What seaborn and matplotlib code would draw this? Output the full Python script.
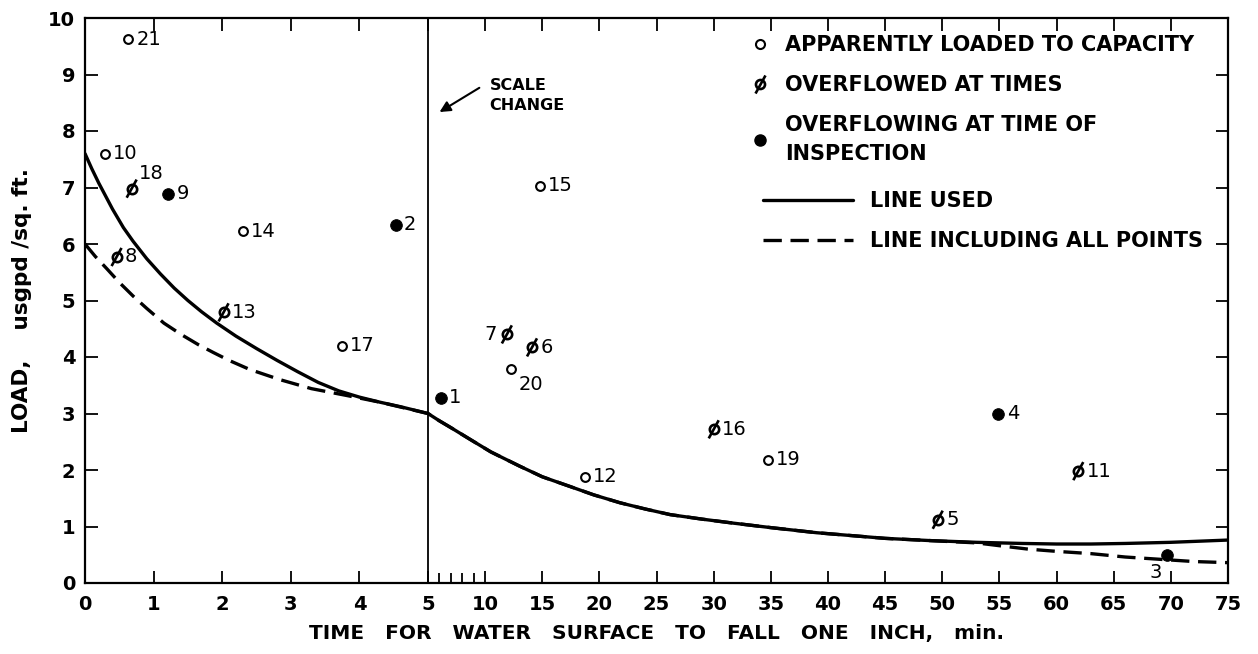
import numpy as np
import pandas as pd
import matplotlib
matplotlib.use("Agg")
import matplotlib.pyplot as plt
from matplotlib.lines import Line2D
from matplotlib.legend_handler import HandlerTuple
import seaborn as sns

# ---------------- data ----------------
point_ids = ["21", "10", "18", "9", "14", "2", "8", "13", "17",
             "1", "7", "6", "20", "15", "12", "16", "19", "4", "11", "5", "3"]
point_x = [0.63, 0.29, 0.68, 1.21, 2.30, 4.53, 0.46, 2.02, 3.74,
           6.1, 11.9, 14.1, 12.3, 14.8, 18.7, 30.0, 34.75, 54.9, 61.9, 49.6, 69.7]
point_y = [9.62, 7.60, 6.98, 6.89, 6.23, 6.34, 5.77, 4.79, 4.20,
           3.28, 4.40, 4.17, 3.78, 7.03, 1.88, 2.72, 2.18, 3.00, 1.98, 1.12, 0.50]
point_type = ["open", "open", "slash", "filled", "open", "filled", "slash", "slash", "open",
              "filled", "slash", "slash", "open", "open", "open", "slash", "open", "filled",
              "slash", "slash", "filled"]

line_used_x = [0, 0.1, 0.2, 0.3, 0.4, 0.56, 0.7, 0.9, 1.1, 1.3, 1.5, 1.7, 1.92, 2.2, 2.5,
               2.8, 3.1, 3.4, 3.7, 4.0, 4.3, 4.6, 5.0,
               6.0, 7.0, 8.7, 10.5, 13.0, 15.0, 17.4, 19.5, 21.8, 24.0, 26.2, 29.0, 31.7,
               35.0, 39.0, 42.0, 45.0, 49.0, 53.0, 57.0, 60.0, 63.0, 66.0, 70.0, 75.0]
line_used_y = [7.60, 7.33, 7.08, 6.85, 6.62, 6.29, 6.05, 5.74, 5.47, 5.22, 5.00, 4.80, 4.60,
               4.37, 4.15, 3.94, 3.74, 3.55, 3.40, 3.29, 3.20, 3.12, 3.00,
               2.87, 2.75, 2.54, 2.32, 2.07, 1.88, 1.71, 1.56, 1.42, 1.31, 1.21, 1.13, 1.06,
               0.98, 0.89, 0.84, 0.79, 0.75, 0.72, 0.70, 0.69, 0.69, 0.70, 0.72, 0.76]

line_all_x = [0, 0.15, 0.32, 0.5, 0.7, 0.9, 1.15, 1.4, 1.65, 1.87, 2.1, 2.4, 2.84, 3.3,
              3.81, 4.3, 5.0,
              6.0, 7.0, 8.7, 10.5, 13.0, 15.0, 17.4, 19.5, 21.8, 24.0, 26.2, 29.0, 31.7,
              35.0, 39.0, 42.0, 45.0, 49.0, 53.0,
              55.0, 57.5, 60.0, 63.0, 66.0, 69.0, 72.0, 75.0]
line_all_y = [6.00, 5.78, 5.56, 5.32, 5.08, 4.86, 4.60, 4.40, 4.22, 4.08, 3.94, 3.78, 3.60,
              3.44, 3.32, 3.20, 3.00,
              2.87, 2.75, 2.54, 2.32, 2.07, 1.88, 1.71, 1.56, 1.42, 1.31, 1.21, 1.13, 1.06,
              0.98, 0.89, 0.84, 0.79, 0.75, 0.71,
              0.66, 0.60, 0.56, 0.52, 0.46, 0.42, 0.38, 0.36]

x_major_ticks = [0, 1, 2, 3, 4, 5, 10, 15, 20, 25, 30, 35, 40, 45, 50, 55, 60, 65, 70, 75]
x_minor_ticks = [6, 7, 8, 9]
y_ticks = list(range(0, 11))

legend_labels = ["APPARENTLY LOADED TO CAPACITY", "OVERFLOWED AT TIMES",
                 "OVERFLOWING AT TIME OF\nINSPECTION"]
line_labels = ["LINE USED", "LINE INCLUDING ALL POINTS"]

# label offsets (points) for point numbers
label_offset = {"18": (5, 4, "left", "bottom"), "7": (-7, 0, "right", "center"),
                "20": (5, -4, "left", "top"), "3": (-4, -6, "right", "top")}

# ---------------- style ----------------
sns.set_theme(style="ticks")
plt.rcParams["font.family"] = ["DejaVu Sans"]
plt.rcParams.update({
    "xtick.direction": "in", "ytick.direction": "in",
    "xtick.top": True, "ytick.right": True,
    "xtick.major.size": 9, "ytick.major.size": 9,
    "xtick.minor.size": 7, "xtick.major.width": 1.3, "ytick.major.width": 1.3,
    "xtick.minor.width": 1.3, "axes.linewidth": 1.6,
    "axes.edgecolor": "black", "text.color": "black", "axes.labelcolor": "black",
    "xtick.color": "black", "ytick.color": "black",
})

fig = plt.figure(figsize=(12.58, 6.54), dpi=100, facecolor="white")
ax = fig.add_axes([85 / 1258, 71 / 654, 1143 / 1258, 565 / 654])

# right part: 70 min over 800 px, left part: 5 min over 343 px
K = (800.0 / 70.0) / (343.0 / 5.0)


def fwd(x):
    x = np.asarray(x, dtype=float)
    return np.where(x <= 5, x, 5 + (x - 5) * K)


def inv(u):
    u = np.asarray(u, dtype=float)
    return np.where(u <= 5, u, 5 + (u - 5) / K)


df = pd.DataFrame({"id": point_ids, "x": point_x, "y": point_y, "type": point_type})
lu = pd.DataFrame({"x": line_used_x, "y": line_used_y})
la = pd.DataFrame({"x": line_all_x, "y": line_all_y})

ax.set_xscale("function", functions=(fwd, inv))

sns.lineplot(data=lu, x="x", y="y", ax=ax, color="black", lw=2.4, estimator=None, sort=False)
sns.lineplot(data=la, x="x", y="y", ax=ax, color="black", lw=2.4, estimator=None, sort=False,
             linestyle=(0, (5.5, 2.6)))
ax.axvline(5, color="black", lw=1.3)

slash = [(-0.55, -1.0), (0.55, 1.0)]
op = df[df.type == "open"]
sl = df[df.type == "slash"]
fi = df[df.type == "filled"]
sns.scatterplot(data=op, x="x", y="y", ax=ax, marker="o", s=40, facecolor="white",
                edgecolor="black", linewidth=1.5, zorder=5)
sns.scatterplot(data=sl, x="x", y="y", ax=ax, marker="o", s=45, facecolor="white",
                edgecolor="black", linewidth=1.9, zorder=5)
sns.scatterplot(data=sl, x="x", y="y", ax=ax, marker=slash, s=170, facecolor="none",
                edgecolor="black", linewidth=1.9, zorder=6)
sns.scatterplot(data=fi, x="x", y="y", ax=ax, marker="o", s=70, color="black",
                edgecolor="black", zorder=5)

for _, r in df.iterrows():
    dx, dy, ha, va = label_offset.get(r.id, (6, 0, "left", "center"))
    ax.annotate(r.id, (r.x, r.y), xytext=(dx, dy), textcoords="offset points",
                ha=ha, va=va, fontsize=14, zorder=7)

ax.set_xlim(0, 75)
ax.set_ylim(0, 10)
ax.set_xticks(x_major_ticks)
ax.set_xticklabels([str(t) for t in x_major_ticks], fontweight="bold")
ax.set_xticks(x_minor_ticks, minor=True)
ax.set_yticks(y_ticks)
ax.set_yticklabels([str(t) for t in y_ticks], fontweight="bold")
ax.tick_params(axis="both", labelsize=14)
ax.tick_params(axis="x", pad=9)
ax.tick_params(axis="y", pad=7)
ax.tick_params(axis="x", which="minor", top=False)

ax.set_xlabel("TIME   FOR   WATER   SURFACE   TO   FALL   ONE   INCH,   min.", fontsize=14.5,
              fontweight="bold", labelpad=7)
ax.set_ylabel("LOAD,    usgpd /sq. ft.", fontsize=15.5, fontweight="bold", labelpad=12)

# scale change annotation
ax.annotate("", xy=(5.8, 8.31), xytext=(9.7, 8.79),
            arrowprops=dict(arrowstyle="-|>", lw=1.5, color="black", mutation_scale=16))
ax.text(10.4, 8.63, "SCALE\nCHANGE", fontsize=11.5, fontweight="bold", ha="left", va="center",
        linespacing=1.45)

# legends
h_open = Line2D([], [], marker="o", ls="", mfc="white", mec="black", ms=6.5, mew=1.5)
h_circ = Line2D([], [], marker="o", ls="", mfc="white", mec="black", ms=6.5, mew=1.9)
h_sl = Line2D([], [], marker=slash, ls="", mfc="none", mec="black", ms=13, mew=1.9)
h_fill = Line2D([], [], marker="o", ls="", mfc="black", mec="black", ms=8)
leg_font = {"size": 15, "weight": "bold"}
leg1 = ax.legend([h_open, (h_circ, h_sl), h_fill], legend_labels,
                 handler_map={tuple: HandlerTuple(ndivide=1, pad=0)},
                 loc="upper left", bbox_to_anchor=(0.583, 0.970), frameon=False,
                 prop=leg_font, handlelength=0.8, handletextpad=0.8, labelspacing=0.96,
                 borderpad=0, borderaxespad=0)
leg1.get_texts()[2].set_linespacing(1.56)
ax.add_artist(leg1)

h_solid = Line2D([], [], color="black", lw=2.4)
h_dash = Line2D([], [], color="black", lw=2.4, ls=(0, (5.5, 2.6)))
ax.legend([h_solid, h_dash], line_labels, loc="upper left", bbox_to_anchor=(0.593, 0.694),
          frameon=False, prop=leg_font, handlelength=4.33, handletextpad=0.8,
          labelspacing=0.96, borderpad=0, borderaxespad=0)

fig.savefig("out.png", dpi=100, facecolor="white")
